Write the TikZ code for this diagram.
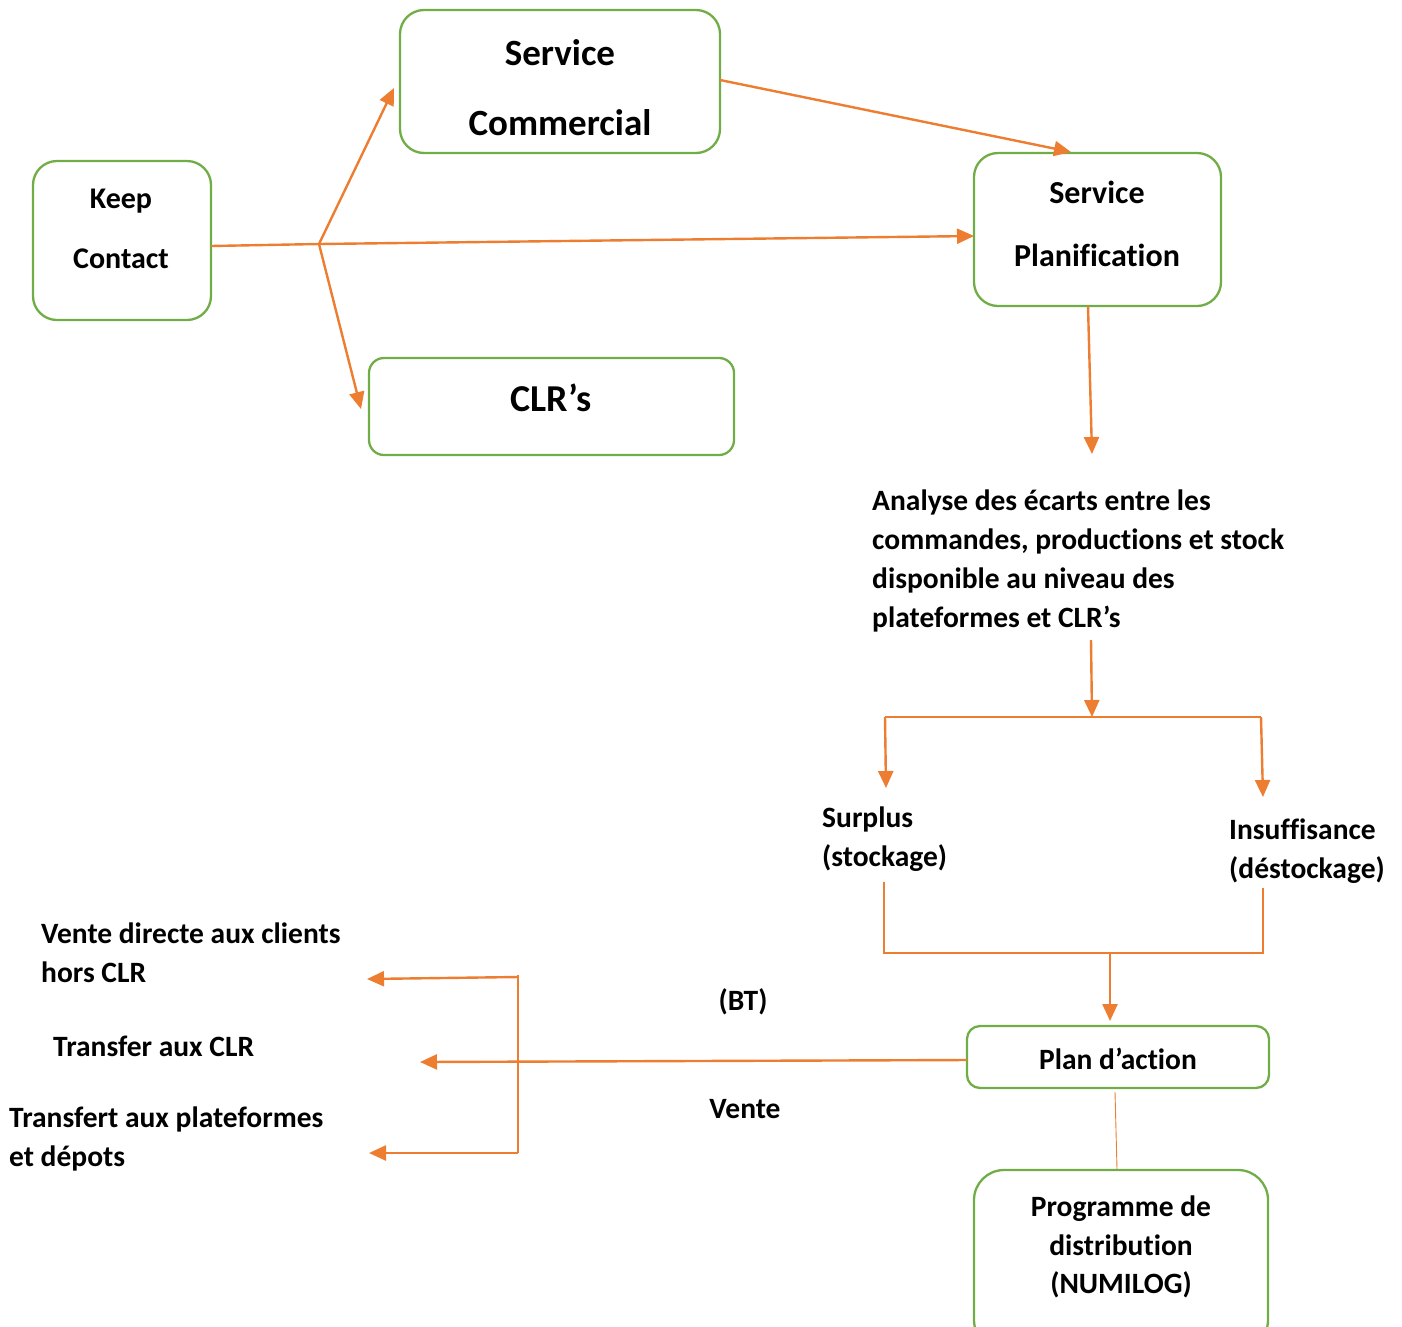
\documentclass[tikz,border=0pt]{standalone}
\usepackage{fontspec}
\setmainfont{Carlito}[Ligatures=CommonOff]
\usetikzlibrary{arrows.meta}
\definecolor{flow}{HTML}{ED7D31}
\definecolor{frame}{HTML}{70AD47}
\tikzset{
  box/.style={draw=frame, line width=2.3pt, inner sep=0pt},
  lbl/.style={inner sep=0pt, font=\bfseries, text=black},
  link/.style={draw=flow, line width=2.4pt},
  thin/.style={draw=flow, line width=1.1pt},
  tip/.style={-{Triangle[length=17pt,width=15pt]}}
}
\newcommand{\fsz}[2]{\fontsize{#1}{#2}\selectfont\bfseries}
\begin{document}
\begin{tikzpicture}[x=1pt,y=-1pt]
\useasboundingbox (0,0) rectangle (1402,1326);

% boxes
\node[box, rounded corners=24pt, minimum width=320pt, minimum height=143pt] (sc) at (560,81.5) {};
\node[box, rounded corners=24pt, minimum width=178pt, minimum height=159pt] (kc) at (122,240.5) {};
\node[box, rounded corners=15pt, minimum width=365pt, minimum height=97pt] (clr) at (551.5,406.5) {};
\node[box, rounded corners=24pt, minimum width=247pt, minimum height=153pt] (sp) at (1097.5,229.5) {};
\node[box, rounded corners=13pt, minimum width=302pt, minimum height=62pt] (pa) at (1118,1057) {};
\node[box, rounded corners=30pt, minimum width=294pt, minimum height=180pt] (pd) at (1121,1260) {};

% box texts
\node[lbl, align=center, font=\fsz{37}{70}] (tsc) at (560,88) {Service\\Commercial};
\node[lbl, align=center, font=\fsz{30}{60}] (tkc) at (121,229) {Keep\\Contact};
\node[lbl, font=\fsz{38}{44}] (tclr) at (551,398) {CLR’s};
\node[lbl, align=center, font=\fsz{32}{63}] (tsp) at (1097,224) {Service\\Planification};
\node[lbl, font=\fsz{29.5}{36}] (tpa) at (1118,1059) {Plan d’action};
\node[lbl, align=center, font=\fsz{29.5}{38.5}] (tpd) at (1121,1247) {Programme de\\distribution\\(NUMILOG)};

% free texts
\node[lbl, align=left, anchor=west, font=\fsz{29.5}{39}] (ana) at (872,561) {Analyse des écarts entre les\\commandes, productions et stock\\disponible au niveau des\\plateformes et CLR’s};
\node[lbl, align=left, anchor=west, font=\fsz{29.5}{39}] (sur) at (822,839.5) {Surplus\\(stockage)};
\node[lbl, align=left, anchor=west, font=\fsz{29.5}{39}] (ins) at (1229,851.5) {Insuffisance\\(déstockage)};
\node[lbl, align=left, anchor=west, font=\fsz{29.5}{39}] (vd) at (41,952.5) {Vente directe aux clients\\hors CLR};
\node[lbl, anchor=west, font=\fsz{29.5}{36}] (tr) at (53,1046) {Transfer aux CLR};
\node[lbl, align=left, anchor=west, font=\fsz{29.5}{39}] (tp) at (9,1138.5) {Transfert aux plateformes\\et dépots};
\node[lbl, font=\fsz{29.5}{36}] (bt) at (743,1002) {(BT)};
\node[lbl, font=\fsz{29.5}{36}] (ve) at (745,1109) {Vente};

% connector points
\coordinate (br) at (319,244);
\coordinate (kcout) at (211,246);
\coordinate (scin) at (394,88);
\coordinate (clrin) at (361,409);
\coordinate (spin) at (974,236);
\coordinate (scout) at (720,80);
\coordinate (sptop) at (1071,152);
\coordinate (spout) at (1088,306);
\coordinate (anain) at (1092,454);
\coordinate (anaout) at (1091,640);
\coordinate (split) at (1092,717);
\coordinate (sl) at (885,717);
\coordinate (sr) at (1261,717);
\coordinate (surin) at (886,788);
\coordinate (insin) at (1263,797);
\coordinate (surout) at (884,882);
\coordinate (insout) at (1263,888);
\coordinate (jl) at (884,953);
\coordinate (jr) at (1263,953);
\coordinate (jm) at (1110,953);
\coordinate (pain) at (1110,1021);
\coordinate (paout) at (967,1060);
\coordinate (trin) at (420,1062);
\coordinate (bt1) at (518,975);
\coordinate (bt2) at (518,1153);
\coordinate (vdtop) at (518,977);
\coordinate (vdin) at (367,979);
\coordinate (tpin) at (369,1153);
\coordinate (pabot) at (1115,1092);
\coordinate (pdtop) at (1117,1169);

% upper flows
\draw[link] (kcout) -- (br);
\draw[link, tip] (br) -- (scin);
\draw[link, tip] (br) -- (clrin);
\draw[link, tip] (br) -- (spin);
\draw[link, tip] (scout) -- (sptop);
\draw[link, tip] (spout) -- (anain);

% split into surplus / shortage
\draw[link, tip] (anaout) -- (split);
\draw[link] (sl) -- (sr);
\draw[link, tip] (sl) -- (surin);
\draw[link, tip] (sr) -- (insin);
\draw[line width=1.5pt, flow] (surout) -- (jl) -- (jr) -- (insout);
\draw[link, tip] (jm) -- (pain);

% action plan outputs
\draw[link, tip] (paout) -- (trin);
\draw[thin] (bt1) -- (bt2);
\draw[link, tip] (vdtop) -- (vdin);
\draw[link, tip] (bt2) -- (tpin);
\draw[line width=0.9pt, flow] (pabot) -- (pdtop);
\end{tikzpicture}
\end{document}
